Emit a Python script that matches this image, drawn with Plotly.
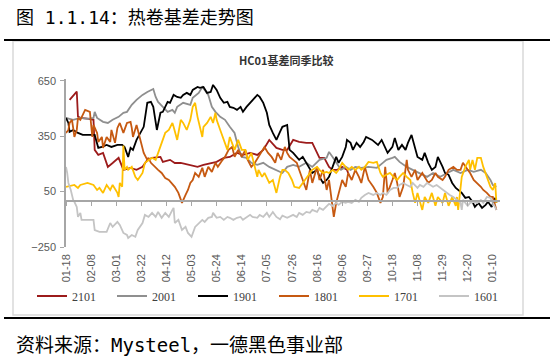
import plotly.graph_objects as go

# ---- data (MM-DD, value) ----
s2101 = [("01-21",547),("01-27",592),("01-28",457),("01-30",450),("02-05",445),("02-10",439),("02-11",276),("02-14",249),("02-18",260),("02-22",184),("02-26",205),("03-03",233),("03-07",168),("03-13",178),("03-18",168),("03-23",184),("03-27",222),("03-31",233),("04-07",238),("04-09",211),("04-15",222),("04-19",205),("04-24",206),("05-02",195),("05-08",184),("05-13",195),("05-19",206),("05-24",211),("05-30",233),("06-04",238),("06-10",260),("06-15",249),("06-21",260),("06-27",249),("07-02",276),("07-07",330),("07-13",287),("07-18",276),("07-22",276),("07-27",330),("08-01",319),("08-07",314),("08-12",314),("08-16",260),("08-18",233),("08-22",233),("08-26",184),("08-29",168),("09-02",168),("09-06",184),("09-10",168),("09-11",151)]

s2001 = [("01-18",449),("01-24",439),("01-30",449),("02-05",444),("02-10",449),("02-11",482),("02-13",449),("02-18",428),("02-22",422),("02-26",439),("03-03",455),("03-07",477),("03-10",482),("03-14",520),("03-18",547),("03-23",574),("03-27",590),("03-30",601),("04-01",606),("04-03",563),("04-05",536),("04-09",509),("04-13",482),("04-17",493),("04-19",477),("04-21",509),("04-26",531),("05-02",520),("05-04",558),("05-09",585),("05-12",617),("05-14",601),("05-17",574),("05-20",509),("05-23",482),("05-27",455),("05-31",439),("06-04",401),("06-08",368),("06-11",292),("06-14",238),("06-18",233),("06-22",206),("06-27",195),("07-02",206),("07-07",184),("07-13",168),("07-18",151),("07-22",184),("07-27",195),("08-01",184),("08-07",206),("08-12",184),("08-18",222),("08-24",233),("08-26",265),("08-29",238),("09-01",206),("09-05",168),("09-09",184),("09-13",168),("09-17",184),("09-22",179),("09-28",184),("10-05",179),("10-10",206),("10-13",222),("10-18",233),("10-20",238),("10-24",211),("10-30",184),("11-04",168),("11-10",151),("11-16",130),("11-21",151),("11-27",130),("12-03",151),("12-08",168),("12-14",151),("12-20",168),("12-25",157),("12-31",168),("01-04",151),("01-08",113),("01-10",86),("01-13",76)]

s1901 = [("01-18",449),("01-20",422),("01-21",374),("01-24",384),("01-28",368),("02-01",357),("02-07",357),("02-11",357),("02-14",287),("02-17",292),("02-21",303),("02-25",292),("03-02",303),("03-06",303),("03-08",292),("03-11",238),("03-13",287),("03-15",276),("03-18",330),("03-21",368),("03-24",401),("03-27",531),("03-30",536),("04-01",509),("04-04",384),("04-07",477),("04-09",482),("04-13",536),("04-15",531),("04-18",574),("04-21",563),("04-24",558),("04-26",574),("04-29",585),("05-02",574),("05-04",601),("05-08",617),("05-10",612),("05-13",617),("05-16",585),("05-19",590),("05-21",628),("05-24",601),("05-27",558),("05-30",531),("06-02",536),("06-04",509),("06-07",504),("06-10",493),("06-13",509),("06-15",482),("06-18",509),("06-21",531),("06-23",547),("06-27",574),("06-29",563),("07-02",531),("07-05",477),("07-07",411),("07-10",368),("07-13",330),("07-16",374),("07-18",401),("07-22",411),("07-24",276),("07-27",260),("07-30",238),("08-01",222),("08-04",238),("08-07",206),("08-10",168),("08-12",151),("08-16",168),("08-18",130),("08-21",97),("08-24",113),("08-26",130),("08-29",184),("09-01",238),("09-03",206),("09-06",238),("09-09",292),("09-10",330),("09-13",314),("09-15",276),("09-18",314),("09-21",292),("09-24",319),("09-26",346),("10-01",330),("10-03",319),("10-06",303),("10-09",330),("10-12",287),("10-14",260),("10-18",292),("10-20",341),("10-23",276),("10-26",303),("10-29",276),("10-31",314),("11-03",357),("11-06",292),("11-08",238),("11-12",222),("11-14",260),("11-17",206),("11-20",168),("11-23",184),("11-25",238),("11-29",184),("12-01",151),("12-04",141),("12-07",97),("12-10",70),("12-12",59),("12-15",43),("12-18",16),("12-21",21),("12-24",-5),("12-26",-33),("12-29",-11),("01-01",-38),("01-04",-22),("01-06",-5),("01-09",-33),("01-12",16),("01-13",-11)]

s1801 = [("01-18",368),("01-20",384),("01-21",422),("01-23",439),("01-24",395),("01-25",346),("01-27",384),("01-28",449),("01-30",439),("02-03",493),("02-07",482),("02-09",346),("02-10",411),("02-13",368),("02-14",319),("02-17",346),("02-18",287),("02-21",346),("02-24",319),("02-25",384),("02-28",314),("03-02",395),("03-04",422),("03-07",368),("03-10",422),("03-13",428),("03-14",395),("03-15",346),("03-18",411),("03-21",330),("03-23",292),("03-24",260),("03-27",222),("03-28",233),("03-30",206),("04-03",184),("04-05",168),("04-08",151),("04-11",124),("04-14",113),("04-18",87),("04-19",76),("04-22",43),("04-25",-11),("04-28",32),("04-30",59),("05-02",97),("05-04",113),("05-06",151),("05-09",130),("05-12",179),("05-14",130),("05-17",184),("05-20",157),("05-23",206),("05-25",184),("05-29",222),("05-31",238),("06-03",276),("06-06",292),("06-08",238),("06-11",276),("06-14",238),("06-17",276),("06-19",222),("06-22",184),("06-25",206),("06-28",238),("07-01",276),("07-03",292),("07-06",260),("07-09",238),("07-12",206),("07-14",260),("07-17",222),("07-20",292),("07-22",260),("07-24",238),("07-27",222),("07-30",206),("08-01",168),("08-04",113),("08-07",59),("08-10",168),("08-12",97),("08-16",184),("08-18",113),("08-21",168),("08-24",59),("08-26",113),("08-28",21),("08-30",-87),("09-01",-11),("09-03",43),("09-06",113),("09-09",76),("09-11",151),("09-14",113),("09-17",168),("09-20",130),("09-22",97),("09-25",184),("09-28",113),("10-02",76),("10-05",43),("10-08",-11),("10-10",21),("10-12",184),("10-14",43),("10-18",113),("10-20",151),("10-22",97),("10-24",21),("10-27",76),("10-30",222),("10-31",168),("11-03",130),("11-06",168),("11-08",113),("11-12",151),("11-14",130),("11-17",97),("11-20",113),("11-23",151),("11-25",130),("11-29",113),("12-01",130),("12-04",168),("12-08",184),("12-11",168),("12-14",168),("12-16",206),("12-20",168),("12-22",151),("12-25",113),("12-28",97),("12-31",76),("01-02",59),("01-05",43),("01-08",21),("01-10",21),("01-13",-49)]

s1701 = [("01-18",76),("01-21",81),("01-25",86),("01-28",70),("01-30",86),("02-05",97),("02-10",86),("02-13",59),("02-15",70),("02-18",43),("02-21",86),("02-24",59),("02-26",86),("03-02",43),("03-03",21),("03-04",97),("03-06",76),("03-07",300),("03-08",168),("03-10",184),("03-11",168),("03-14",184),("03-17",130),("03-19",113),("03-23",151),("03-25",206),("03-28",222),("03-31",233),("04-03",222),("04-05",260),("04-08",314),("04-11",368),("04-14",384),("04-17",422),("04-18",401),("04-21",330),("04-24",439),("04-26",422),("04-29",384),("05-02",439),("05-04",509),("05-06",531),("05-08",455),("05-10",401),("05-12",346),("05-13",401),("05-16",422),("05-19",455),("05-21",422),("05-23",477),("05-24",439),("05-27",384),("05-30",330),("06-02",276),("06-04",346),("06-06",314),("06-08",276),("06-11",330),("06-14",276),("06-17",276),("06-19",222),("06-22",260),("06-25",184),("06-27",130),("06-28",168),("07-01",130),("07-03",151),("07-06",113),("07-07",97),("07-10",113),("07-13",43),("07-16",130),("07-18",168),("07-20",168),("07-23",151),("07-26",113),("07-28",76),("08-01",70),("08-04",97),("08-07",130),("08-10",151),("08-12",168),("08-16",184),("08-18",168),("08-21",151),("08-24",157),("08-26",151),("08-29",168),("09-01",151),("09-03",168),("09-06",206),("09-09",184),("09-11",168),("09-14",184),("09-17",168),("09-20",184),("09-22",168),("09-25",184),("09-28",211),("10-02",206),("10-05",211),("10-08",151),("10-10",130),("10-13",141),("10-16",151),("10-19",130),("10-22",113),("10-24",130),("10-27",151),("10-30",130),("11-02",113),("11-04",43),("11-06",-11),("11-08",43),("11-12",-49),("11-14",21),("11-17",-11),("11-20",43),("11-23",-27),("11-25",21),("11-29",-11),("12-01",43),("12-04",-27),("12-07",21),("12-10",-27),("12-11",21),("12-12",-49),("12-15",130),("12-18",184),("12-21",222),("12-22",168),("12-24",222),("12-26",168),("12-28",233),("12-31",233),("01-02",184),("01-05",130),("01-08",76),("01-10",59),("01-12",97),("01-13",-11)]

s1601 = [("01-18",184),("01-19",151),("01-20",97),("01-22",59),("01-24",5),("01-25",-5),("01-27",-33),("01-28",-87),("01-30",-65),("01-31",-103),("02-05",-103),("02-10",-103),("02-11",-158),("02-15",-168),("02-21",-168),("02-24",-120),("02-26",-141),("03-02",-114),("03-04",-130),("03-07",-174),("03-10",-185),("03-11",-201),("03-14",-185),("03-17",-195),("03-19",-158),("03-23",-120),("03-25",-76),("03-28",-87),("03-31",-65),("04-03",-87),("04-05",-60),("04-08",-92),("04-11",-65),("04-14",-87),("04-17",-49),("04-18",-38),("04-19",-120),("04-22",-103),("04-25",-158),("04-28",-141),("04-30",-174),("05-03",-195),("05-06",-141),("05-09",-120),("05-12",-103),("05-14",-114),("05-17",-92),("05-20",-87),("05-21",-65),("05-24",-92),("05-27",-87),("05-30",-103),("06-02",-87),("06-04",-92),("06-07",-103),("06-10",-92),("06-13",-87),("06-15",-103),("06-18",-87),("06-21",-76),("06-23",-87),("06-27",-92),("06-29",-76),("07-02",-87),("07-05",-65),("07-07",-87),("07-10",-60),("07-13",-87),("07-16",-100),("07-18",-80),("07-22",-92),("07-24",-87),("07-27",-76),("07-30",-87),("08-01",-65),("08-04",-76),("08-07",-60),("08-10",-65),("08-12",-49),("08-16",-60),("08-18",-38),("08-21",-49),("08-24",-27),("08-26",-16),("08-29",-27),("09-01",-11),("09-03",-22),("09-06",-5),("09-09",-11),("09-11",-5),("09-14",-11),("09-17",5),("09-20",-5),("09-22",16),("09-25",32),("09-28",43),("10-02",32),("10-05",43),("10-08",32),("10-10",43),("10-13",32),("10-16",59),("10-19",70),("10-22",70),("10-24",86),("10-27",97),("10-30",86),("11-02",76),("11-04",97),("11-08",70),("11-10",86),("11-13",76),("11-16",97),("11-19",86),("11-21",76),("11-24",86),("11-27",70),("11-30",59),("12-03",43),("12-05",32),("12-08",21),("12-11",5),("12-14",-11),("12-15",-49),("12-16",5),("12-20",-27),("12-22",-11),("12-25",-5),("12-28",-11),("12-31",5),("01-02",-11),("01-05",21),("01-08",16),("01-10",-11),("01-13",-49)]

series_names = ["2101", "2001", "1901", "1801", "1701", "1601"]
series_data = [s2101, s2001, s1901, s1801, s1701, s1601]
series_colors = ["#9C1B1B", "#8F8F8F", "#000000", "#C65911", "#FFC000", "#C4C4C4"]

y_ticks = [-250, 50, 350, 650]
x_tick_start = "2019-01-18"
x_tick_days = 21


def to_date(md):
    m, d = map(int, md.split("-"))
    year = 2020 if (m == 1 and d < 17) else 2019
    return f"{year}-{m:02d}-{d:02d}"


W, H = 550, 359
ML, MR, MT, MB = 66, 50, 79, 112
pw, ph = W - ML - MR, H - MT - MB
yr = [-250, 660]
xr = ["2019-01-18", "2020-01-16"]


def px(x):
    return (x - ML) / pw


def py(y):
    return (H - MB - y) / ph


legend_text_x = [72, 152, 233, 314, 394, 474]
legend_ids = ["legend", "legend2", "legend3", "legend4", "legend5", "legend6"]

fig = go.Figure()
for name, data, color, lid in zip(series_names, series_data, series_colors, legend_ids):
    fig.add_trace(go.Scatter(
        x=[to_date(d) for d, _ in data],
        y=[v for _, v in data],
        mode="lines", name=name, legend=lid,
        line=dict(color=color, width=1.8),
    ))

# helper trace so the zero-line axis is drawn
fig.add_trace(go.Scatter(x=[to_date("01-18")], y=[None], xaxis="x2",
                         showlegend=False, hoverinfo="skip"))

axis_gray = "#A6A6A6"
tick_font = dict(family="Liberation Sans, Arial, sans-serif", size=11, color="#595959")
legend_font = dict(family="Liberation Serif, Times New Roman, serif", size=12, color="#404040")

legends = {}
for lid, tx in zip(legend_ids, legend_text_x):
    legends[lid] = dict(
        orientation="h", x=px(tx - 40), xanchor="left", y=py(296), yanchor="middle",
        font=legend_font, bgcolor="rgba(0,0,0,0)", itemwidth=30,
    )

fig.update_layout(
    width=W, height=H,
    margin=dict(l=ML, r=MR, t=MT, b=MB),
    paper_bgcolor="white", plot_bgcolor="white",
    showlegend=True,
    xaxis=dict(
        type="date", range=xr, tick0=x_tick_start, dtick=x_tick_days * 86400000,
        tickformat="%m-%d", tickangle=-90, showgrid=False, zeroline=False,
        showline=False, ticks="", tickfont=tick_font, ticklabelstandoff=4,
    ),
    xaxis2=dict(
        type="date", range=xr, tick0=x_tick_start, dtick=x_tick_days * 86400000,
        overlaying="x", anchor="free", position=(0 - yr[0]) / (yr[1] - yr[0]),
        showline=True, linecolor=axis_gray, linewidth=1.5,
        ticks="outside", ticklen=4, tickcolor=axis_gray, tickwidth=1,
        showticklabels=False, showgrid=False, zeroline=False,
    ),
    yaxis=dict(
        range=yr, tickvals=y_ticks, showgrid=False, zeroline=False,
        showline=True, linecolor=axis_gray, linewidth=1.5,
        ticks="outside", ticklen=4, tickcolor=axis_gray,
        tickfont=tick_font, ticklabelstandoff=2,
    ),
    shapes=[
        dict(type="rect", xref="paper", yref="paper", x0=px(13), x1=px(523),
             y0=py(315), y1=py(41), line=dict(color="#D9D9D9", width=1.5), layer="below"),
        dict(type="line", xref="paper", yref="paper", x0=px(4), x1=px(550),
             y0=py(40), y1=py(40), line=dict(color="black", width=2)),
        dict(type="line", xref="paper", yref="paper", x0=px(4), x1=px(550),
             y0=py(318), y1=py(318), line=dict(color="black", width=2)),
    ],
    annotations=[
        dict(text="图 1.1.14：热卷基差走势图", xref="paper", yref="paper",
             x=px(14), y=py(17), xanchor="left", yanchor="middle", showarrow=False,
             font=dict(family="DejaVu Sans Mono, Noto Sans CJK SC", size=18, color="black")),
        dict(text="<b>HC01基差同季比较</b>", xref="paper", yref="paper",
             x=px(286), y=py(60), xanchor="center", yanchor="middle", showarrow=False,
             font=dict(family="Noto Sans CJK SC", size=11, color="#333333")),
        dict(text="资料来源：Mysteel，一德黑色事业部", xref="paper", yref="paper",
             x=px(14), y=py(345), xanchor="left", yanchor="middle", showarrow=False,
             font=dict(family="DejaVu Sans Mono, Noto Sans CJK SC", size=19, color="black")),
    ],
)
fig.update_layout(**legends)

fig.write_html("out.html", config={"displayModeBar": False},
               post_script="document.body.style.margin='0px';")
